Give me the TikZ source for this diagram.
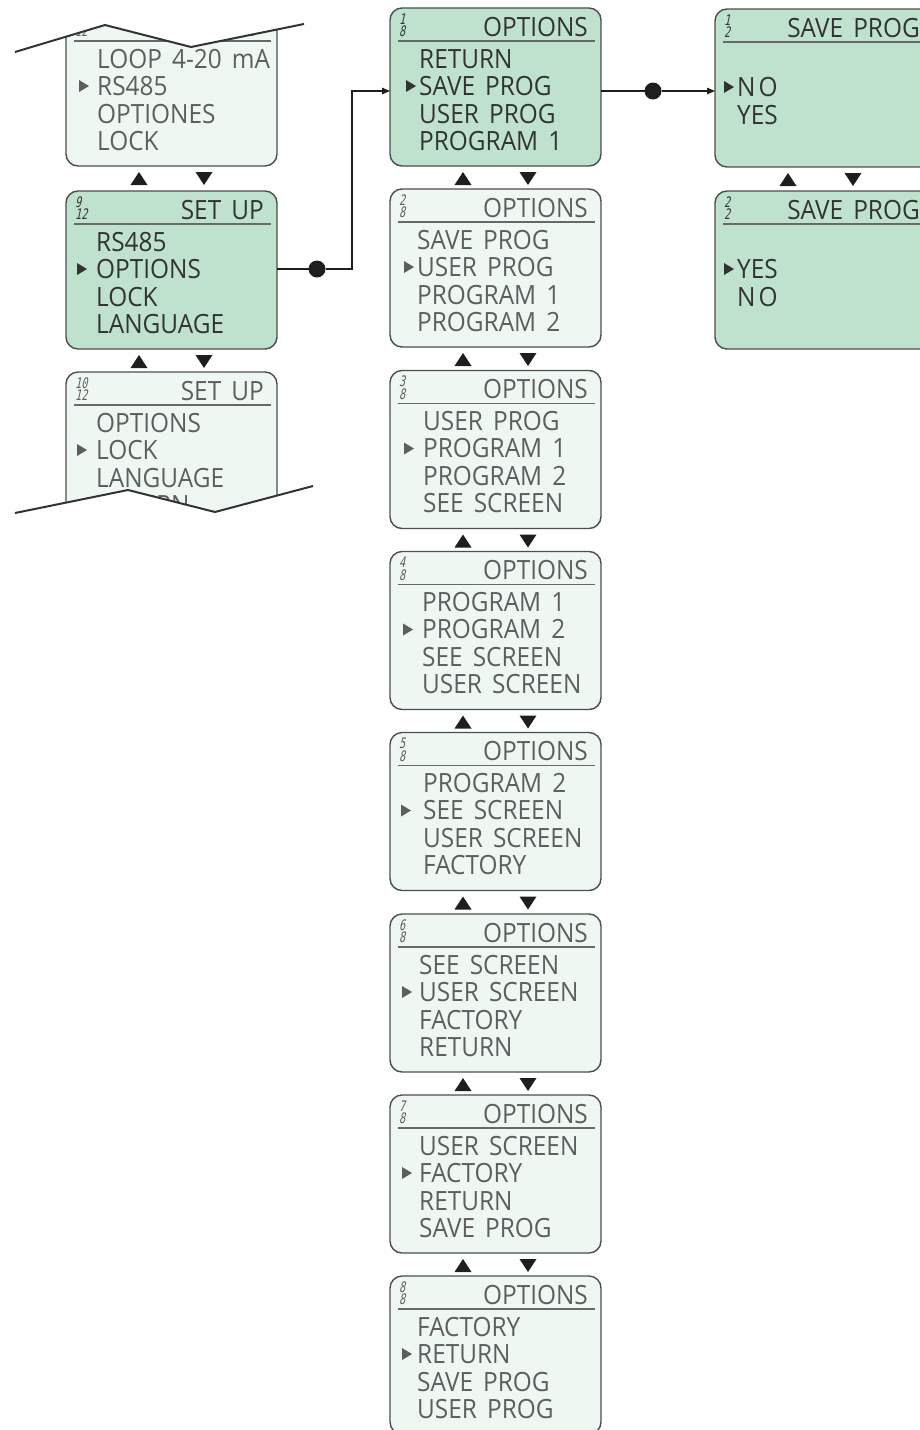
\documentclass[tikz,border=0pt]{standalone}
\usepackage{fontspec}
\setmainfont{Open Sans}[FakeStretch=0.92,WordSpace=1.6]
\newfontfamily\segfont{DejaVu Sans Mono}[FakeSlant=0.22,FakeStretch=0.7]
\usetikzlibrary{arrows.meta,calc}

\definecolor{lcdon}{HTML}{BEE2CE}
\definecolor{lcdoff}{HTML}{EEF7F1}
\definecolor{bezel}{HTML}{4D4D4D}
\definecolor{inkon}{HTML}{333333}
\definecolor{inkoff}{HTML}{5E5E5E}
\definecolor{wirecol}{HTML}{1E1E1E}

\tikzset{
  screen/.style={draw=bezel, line width=1.4pt, rounded corners=12pt,
    minimum width=211pt, minimum height=158pt, inner sep=0pt, outer sep=0pt,
    anchor=north west},
  headrule/.style={draw=bezel!85, line width=1.2pt},
  lcdtext/.style={font=\fontsize{26.5}{30}\selectfont, inner sep=0pt, anchor=base west},
  segtext/.style={font=\segfont\fontsize{14.5}{14.5}\selectfont, inner sep=0pt, anchor=base west},
  wire/.style={draw=wirecol, line width=1.3pt},
  tip/.style={-{Triangle[length=8pt,width=6.5pt]}},
  dot/.style={circle, fill=wirecol, minimum size=17pt, inner sep=0pt, outer sep=0pt},
  scrollmark/.style={fill=wirecol},
  cutline/.style={draw=black!80, line width=2pt},
}

% one LCD screen: name, x, y, box style, ink colour, upper digit, lower digit, title
\newcommand\lcd[8]{%
  \def\ink{#5}%
  \node[screen, #4] (#1) at (#2,#3) {};
  \draw[headrule] ($(#1.north west)+(8,33)$) -- ($(#1.north east)+(-6,33)$);
  \node[segtext, text=\ink] (#1-up) at ($(#1.north west)+(9,16)$) {#6};
  \node[segtext, text=\ink] (#1-lo) at ($(#1.north west)+(9,28.5)$) {#7};
  \node[lcdtext, anchor=base east, text=\ink] (#1-title) at ($(#1.north east)+(-13,28)$) {#8};
}
% the four menu rows: name, left indent, row texts
\newcommand\rows[6]{%
  \node[lcdtext, text=\ink] (#1-a) at ($(#1.north west)+(#2,60)$) {#3};
  \node[lcdtext, text=\ink] (#1-b) at ($(#1.north west)+(#2,87)$) {#4};
  \node[lcdtext, text=\ink] (#1-c) at ($(#1.north west)+(#2,115)$) {#5};
  \node[lcdtext, text=\ink] (#1-d) at ($(#1.north west)+(#2,142)$) {#6};
}
% cursor triangle: name, tip x offset, baseline offset of the row
\newcommand\pointer[3]{%
  \fill[\ink] ($(#1.north west)+(#2-10,#3-15)$) -- ++(10,6) -- ++(-10,6) -- cycle;
}
% up / down scroll marks under a screen
\newcommand\scroll[1]{%
  \fill[scrollmark] ($(#1.south west)+(64.5,19)$) -- ++(17,0) -- ++(-8.5,-13) -- cycle;
  \fill[scrollmark] ($(#1.south west)+(129.5,6)$) -- ++(17,0) -- ++(-8.5,13) -- cycle;
}

\begin{document}
\begin{tikzpicture}[x=1pt,y=-1pt]
\useasboundingbox (0,0) rectangle (920,1430);
\clip (0,0) rectangle (920,1430);

% ---- SET UP menu (left column) ----
\lcd{l1}{66}{8}{fill=lcdoff}{inkoff}{8}{12}{SET UP}
\rows{l1}{31}{LOOP 4-20 mA}{RS485}{OPTIONES}{LOCK}
\pointer{l1}{23}{87}
\scroll{l1}

\lcd{l2}{66}{191}{fill=lcdon}{inkon}{9}{12}{SET UP}
\rows{l2}{30}{RS485}{OPTIONS}{LOCK}{LANGUAGE}
\pointer{l2}{21}{87}
\scroll{l2}

\lcd{l3}{66}{372}{fill=lcdoff}{inkoff}{10}{12}{SET UP}
\rows{l3}{30}{OPTIONS}{LOCK}{LANGUAGE}{RETURN}
\pointer{l3}{21}{87}

% torn edges of the SET UP list
\fill[white] (15,52) -- (105,25) -- (191,47) -- (304,24) -- (304,0) -- (15,0) -- cycle;
\draw[cutline] (15,52) -- (105,25) -- (191,47) -- (304,24);
\fill[white] (15,513) -- (128,490) -- (215,512) -- (313,486) -- (313,545) -- (15,545) -- cycle;
\draw[cutline] (15,513) -- (128,490) -- (215,512) -- (313,486);

% ---- OPTIONS menu (middle column) ----
\lcd{s1}{390}{8}{fill=lcdon}{inkon}{1}{8}{OPTIONS}
\rows{s1}{29}{RETURN}{SAVE PROG}{USER PROG}{PROGRAM 1}
\pointer{s1}{26}{87}
\scroll{s1}

\lcd{s2}{390}{189}{fill=lcdoff}{inkoff}{2}{8}{OPTIONS}
\rows{s2}{27}{SAVE PROG}{USER PROG}{PROGRAM 1}{PROGRAM 2}
\pointer{s2}{24}{87}
\scroll{s2}

\lcd{s3}{390}{370.5}{fill=lcdoff}{inkoff}{3}{8}{OPTIONS}
\rows{s3}{33}{USER PROG}{PROGRAM 1}{PROGRAM 2}{SEE SCREEN}
\pointer{s3}{24}{87}
\scroll{s3}

\lcd{s4}{390}{551.5}{fill=lcdoff}{inkoff}{4}{8}{OPTIONS}
\rows{s4}{32}{PROGRAM 1}{PROGRAM 2}{SEE SCREEN}{USER SCREEN}
\pointer{s4}{23}{87}
\scroll{s4}

\lcd{s5}{390}{732.5}{fill=lcdoff}{inkoff}{5}{8}{OPTIONS}
\rows{s5}{33}{PROGRAM 2}{SEE SCREEN}{USER SCREEN}{FACTORY}
\pointer{s5}{21}{87}
\scroll{s5}

\lcd{s6}{390}{914}{fill=lcdoff}{inkoff}{6}{8}{OPTIONS}
\rows{s6}{29}{SEE SCREEN}{USER SCREEN}{FACTORY}{RETURN}
\pointer{s6}{22}{87}
\scroll{s6}

\lcd{s7}{390}{1095}{fill=lcdoff}{inkoff}{7}{8}{OPTIONS}
\rows{s7}{29}{USER SCREEN}{FACTORY}{RETURN}{SAVE PROG}
\pointer{s7}{22}{87}
\scroll{s7}

\lcd{s8}{390}{1276}{fill=lcdoff}{inkoff}{8}{8}{OPTIONS}
\rows{s8}{27}{FACTORY}{RETURN}{SAVE PROG}{USER PROG}
\pointer{s8}{22}{87}

% ---- SAVE PROG confirmation (right column) ----
\lcd{r1}{715}{9}{fill=lcdon, minimum width=218pt}{inkon}{1}{2}{SAVE PROG}
\rows{r1}{22}{}{N\kern3ptO}{YES}{}
\pointer{r1}{19}{87}
\scroll{r1}

\lcd{r2}{715}{191}{fill=lcdon, minimum width=218pt}{inkon}{2}{2}{SAVE PROG}
\rows{r2}{22}{}{YES}{N\kern3ptO}{}
\pointer{r2}{19}{87}

% ---- connectors ----
\node[dot] (d1) at (317,269) {};
\node[dot] (d2) at (653,91) {};
\coordinate (c1) at (352,91);
\draw[wire] (l2.east |- d1) -- (d1);
\draw[wire, tip] (d1.east) -| (c1) -- (s1.west |- c1);
\draw[wire] (s1.east |- d2) -- (d2);
\draw[wire, tip] (d2.east) -- (r1.west |- d2);
\end{tikzpicture}
\end{document}
